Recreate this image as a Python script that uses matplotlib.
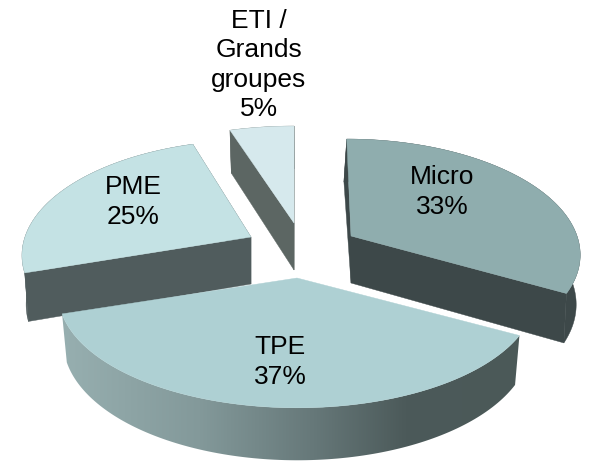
#!/usr/bin/env python3
# 3D exploded pie, matplotlib's pie has no depth so the faces are built by hand

import numpy
import matplotlib
matplotlib.use('Agg')
import matplotlib.pyplot as plt
from matplotlib.colors import LinearSegmentedColormap
from matplotlib.patches import Polygon

categories = ['Micro', 'TPE', 'PME', 'ETI /\nGrands\ngroupes']
values = [33, 37, 25, 5]

# apex of each slice in pixels (explode offsets)
apex_x = [351, 297, 251, 294]
apex_y = [236, 278, 237, 223]
radius = [226, 236, 226, 236]
top_colors = ['#8fadae', '#aed0d3', '#c4e2e4', '#d6e9ed']
wall_colors = ['#3d4849', '#5a6b6c', '#505c5d', '#5c6663']
label_x = [442, 280, 133, 259]
label_y = [192, 362, 202, 65]

RY = 111.0
K = 0.145
VX = 295.0
DEPTH = 47.0


def project(cx, cy, r, theta, lower=False):
    # theta clockwise from 12 o'clock, the back of the disc is further from the camera
    theta = numpy.asarray(theta, dtype=float)
    s = 1/(1 + K*numpy.cos(theta))
    dx = r*numpy.sin(theta)*s
    dy = -RY*numpy.cos(theta)*s
    x = cx + dx + (cx - VX)*(s - 1)*0.6
    y = cy + dy
    if lower:
        x = cx + 0.98*dx + (cx - VX)*(s - 1)
        y = y + DEPTH*s**0.7
    return x, y


fig = plt.figure(figsize=(5.9, 4.62), dpi=100)
ax = fig.add_axes([0, 0, 1, 1])
plt.rcParams['font.family'] = ['Liberation Sans', 'DejaVu Sans']

edges = numpy.radians(numpy.cumsum([0] + values)*3.6)
tpe_cmap = LinearSegmentedColormap.from_list(
    'tpe', [(0, '#97afb0'), (0.3, '#83999a'), (0.55, '#667879'), (0.75, '#4c5a5a'), (1, '#4b5958')])

# drawing order: TPE sits under the PME wall
for i in [1, 3, 0, 2]:
    cx, cy, r = apex_x[i], apex_y[i], radius[i]
    t = numpy.linspace(edges[i], edges[i+1], 120)
    xt, yt = project(cx, cy, r, t)
    xb, yb = project(cx, cy, r, t, lower=True)

    rim = numpy.column_stack([numpy.r_[xt, xb[::-1]], numpy.r_[yt, yb[::-1]]])
    if i == 1:
        patch = Polygon(rim, closed=True, fc='none', ec='none')
        ax.add_patch(patch)
        grad = numpy.linspace(0, 1, 256).reshape(1, -1)
        im = ax.imshow(grad, cmap=tpe_cmap, extent=[xt.min(), xt.max(), 470, 300],
                       aspect='auto', zorder=1+i*0.01)
        im.set_clip_path(patch)
    else:
        ax.add_patch(Polygon(rim, closed=True, fc=wall_colors[i], ec=wall_colors[i], lw=0.3))

    # the two cut faces
    for end in [0, -1]:
        wall = [(cx, cy), (xt[end], yt[end]), (xb[end], yb[end]), (cx, cy + DEPTH)]
        if i != 1:
            ax.add_patch(Polygon(wall, closed=True, fc=wall_colors[i], ec=wall_colors[i], lw=0.3))

    top = numpy.column_stack([numpy.r_[cx, xt], numpy.r_[cy, yt]])
    ax.add_patch(Polygon(top, closed=True, fc=top_colors[i], ec=top_colors[i], lw=0.3,
                         zorder=1.5 if i == 1 else 1))

for i, name in enumerate(categories):
    ax.text(label_x[i], label_y[i], '%s\n%d%%' % (name, values[i]), fontsize=19,
            ha='center', va='center', color='#000000', linespacing=1.28, zorder=5)

ax.set_xlim(0, 590)
ax.set_ylim(462, 0)
ax.axis('off')
fig.savefig('out.png', dpi=100)
